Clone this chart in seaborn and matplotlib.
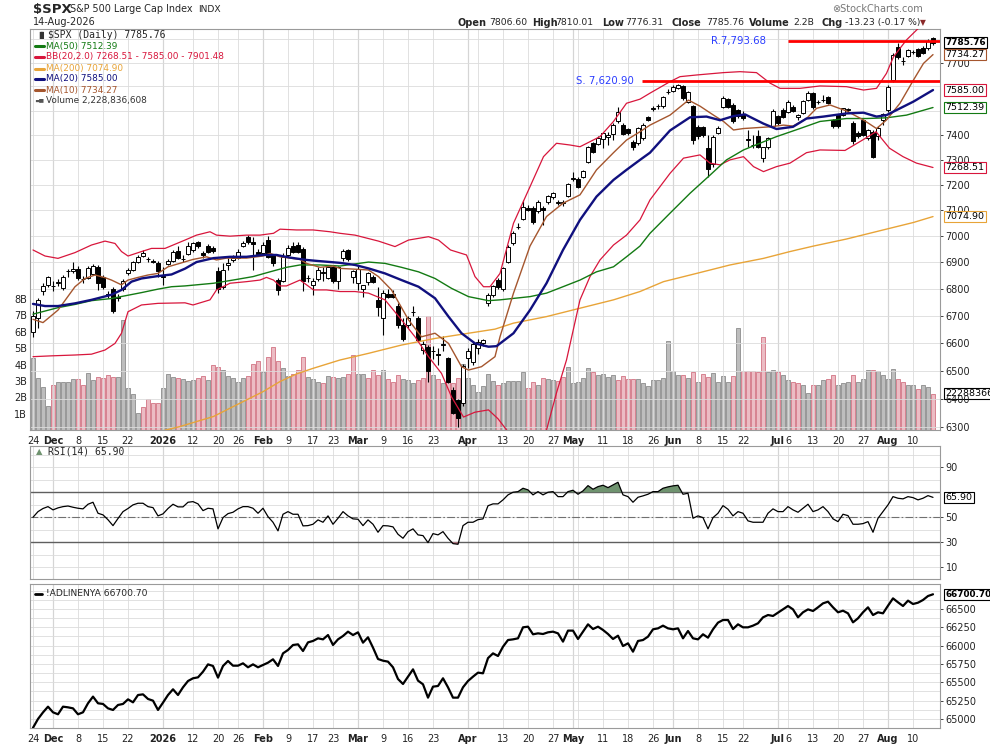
import numpy as np
import seaborn as sns
import matplotlib.pyplot as plt
import matplotlib.transforms as mtransforms
from matplotlib.lines import Line2D
from matplotlib.ticker import FixedLocator, NullLocator, FuncFormatter

# $SPX daily bars, 24 Nov 2025 .. 14 Aug 2026 (x = trading-day index 0..180)
opens = [6640, 6690, 6790, 6812, 6810, 6820, 6802, 6865, 6868, 6872,
         6836, 6840, 6855, 6882, 6842, 6778, 6800, 6765, 6800, 6858,
         6870, 6900, 6923, 6912, 6905, 6898, 6846, 6893, 6905, 6943,
         6912, 6930, 6945, 6975, 6935, 6960, 6955, 6868, 6805, 6890,
         6908, 6915, 6963, 6995, 6975, 6940, 6935, 6985, 6925, 6832,
         6830, 6925, 6960, 6965, 6950, 6838, 6812, 6835, 6860, 6840,
         6880, 6830, 6915, 6945, 6845, 6822, 6798, 6825, 6845, 6757,
         6690, 6780, 6780, 6735, 6665, 6665, 6712, 6690, 6575, 6585,
         6570, 6560, 6592, 6545, 6430, 6395, 6385, 6545, 6530, 6580,
         6600, 6745, 6777, 6832, 6797, 6902, 6971, 7033, 7065, 7110,
         7110, 7095, 7110, 7130, 7150, 7128, 7128, 7155, 7224, 7224,
         7230, 7292, 7368, 7363, 7383, 7390, 7405, 7455, 7440, 7423,
         7373, 7366, 7387, 7472, 7508, 7517, 7519, 7575, 7583, 7592,
         7602, 7537, 7519, 7434, 7434, 7346, 7283, 7407, 7516, 7548,
         7523, 7502, 7486, 7382, 7357, 7395, 7305, 7350, 7437, 7477,
         7502, 7495, 7516, 7472, 7491, 7544, 7572, 7535, 7542, 7555,
         7459, 7481, 7481, 7503, 7450, 7408, 7461, 7387, 7412, 7394,
         7459, 7502, 7627, 7768, 7706, 7729, 7745, 7757, 7761, 7761,
         7806.60]
highs = [6716, 6765, 6820, 6848, 6830, 6835, 6852, 6875, 6902, 6885,
         6848, 6885, 6892, 6888, 6850, 6790, 6805, 6780, 6835, 6878,
         6905, 6925, 6945, 6920, 6912, 6905, 6882, 6910, 6945, 6962,
         6925, 6975, 6978, 6982, 6942, 6970, 6962, 6880, 6895, 6915,
         6925, 6950, 6982, 7003, 6995, 6950, 6975, 6998, 6930, 6840,
         6935, 6965, 6975, 6978, 6958, 6850, 6840, 6880, 6880, 6890,
         6890, 6885, 6950, 6950, 6870, 6885, 6815, 6862, 6850, 6807,
         6795, 6800, 6795, 6745, 6690, 6700, 6735, 6700, 6605, 6592,
         6590, 6580, 6625, 6550, 6440, 6400, 6525, 6580, 6605, 6615,
         6615, 6785, 6815, 6840, 6880, 6965, 7020, 7048, 7140, 7122,
         7118, 7138, 7118, 7160, 7172, 7140, 7140, 7206, 7250, 7230,
         7260, 7355, 7372, 7395, 7412, 7410, 7450, 7515, 7450, 7430,
         7380, 7432, 7447, 7478, 7520, 7525, 7560, 7590, 7605, 7612,
         7608, 7582, 7522, 7440, 7438, 7398, 7400, 7435, 7560, 7552,
         7530, 7506, 7500, 7420, 7400, 7420, 7352, 7392, 7505, 7482,
         7512, 7542, 7522, 7485, 7545, 7582, 7578, 7545, 7565, 7562,
         7465, 7486, 7512, 7510, 7455, 7415, 7466, 7425, 7418, 7435,
         7490, 7605, 7740, 7782, 7725, 7758, 7752, 7762, 7770, 7800,
         7810.01]
lows = [6622, 6655, 6775, 6805, 6792, 6810, 6795, 6845, 6860, 6832,
        6822, 6835, 6850, 6795, 6800, 6765, 6710, 6755, 6790, 6850,
        6865, 6895, 6918, 6900, 6895, 6845, 6813, 6888, 6900, 6910,
        6900, 6925, 6940, 6955, 6915, 6935, 6935, 6785, 6800, 6870,
        6900, 6912, 6958, 6970, 6870, 6925, 6925, 6915, 6885, 6775,
        6825, 6920, 6935, 6935, 6790, 6825, 6775, 6830, 6830, 6835,
        6820, 6800, 6905, 6905, 6820, 6795, 6770, 6815, 6820, 6698,
        6628, 6765, 6765, 6655, 6605, 6655, 6700, 6605, 6560, 6460,
        6540, 6520, 6570, 6455, 6345, 6300, 6375, 6510, 6520, 6560,
        6590, 6735, 6770, 6800, 6790, 6898, 6965, 7025, 7060, 7095,
        7045, 7090, 7043, 7125, 7145, 7120, 7118, 7150, 7215, 7185,
        7225, 7288, 7325, 7358, 7345, 7360, 7380, 7450, 7400, 7400,
        7340, 7360, 7380, 7455, 7500, 7505, 7512, 7570, 7578, 7588,
        7545, 7530, 7365, 7385, 7392, 7232, 7270, 7402, 7510, 7510,
        7450, 7470, 7460, 7352, 7348, 7345, 7290, 7342, 7430, 7440,
        7470, 7488, 7495, 7462, 7485, 7538, 7508, 7528, 7535, 7525,
        7430, 7430, 7476, 7495, 7365, 7388, 7395, 7380, 7305, 7380,
        7440, 7495, 7620, 7715, 7690, 7722, 7738, 7725, 7735, 7755,
        7776.31]
closes = [6700, 6757, 6810, 6843, 6808, 6824, 6845, 6868, 6872, 6838,
          6835, 6878, 6884, 6820, 6805, 6775, 6718, 6768, 6830, 6870,
          6900, 6920, 6935, 6910, 6902, 6866, 6845, 6905, 6940, 6915,
          6913, 6962, 6972, 6960, 6925, 6940, 6942, 6800, 6870, 6895,
          6916, 6938, 6972, 6975, 6968, 6930, 6965, 6920, 6895, 6795,
          6920, 6955, 6940, 6940, 6830, 6840, 6830, 6870, 6862, 6880,
          6830, 6880, 6942, 6910, 6865, 6875, 6812, 6858, 6825, 6730,
          6785, 6770, 6768, 6665, 6615, 6690, 6713, 6612, 6597, 6498,
          6570, 6555, 6597, 6461, 6350, 6332, 6517, 6570, 6595, 6603,
          6610, 6777, 6810, 6807, 6876, 6959, 7013, 7035, 7114, 7102,
          7052, 7132, 7102, 7157, 7168, 7130, 7132, 7202, 7226, 7192,
          7255, 7350, 7332, 7389, 7407, 7400, 7442, 7495, 7405, 7409,
          7350, 7427, 7442, 7461, 7512, 7519, 7557, 7578, 7597, 7606,
          7551, 7578, 7379, 7395, 7400, 7262, 7390, 7427, 7551, 7516,
          7455, 7478, 7468, 7380, 7359, 7350, 7350, 7387, 7500, 7450,
          7475, 7537, 7500, 7481, 7540, 7574, 7514, 7537, 7544, 7530,
          7437, 7437, 7509, 7505, 7375, 7394, 7400, 7420, 7309, 7427,
          7486, 7599, 7733, 7723, 7708, 7754, 7747, 7729, 7740, 7794,
          7785.76]

# volume in billions and the bar colour class (u = grey up day, d = pink down day)
volume_b = [4.41, 3.20, 2.65, 1.47, 2.77, 2.95, 2.95, 2.95, 3.13, 3.13,
            2.77, 3.50, 3.07, 3.26, 3.20, 3.36, 3.26, 3.26, 6.71, 2.59,
            2.22, 1.04, 1.43, 1.91, 1.67, 1.67, 2.59, 3.44, 3.26, 3.20,
            3.13, 3.01, 3.07, 3.20, 3.32, 3.07, 3.99, 3.86, 3.64, 3.32,
            3.20, 2.95, 3.20, 3.32, 4.05, 4.23, 3.54, 4.48, 5.07, 4.23,
            3.80, 3.32, 3.44, 3.68, 4.48, 3.26, 3.13, 2.95, 2.89, 3.32,
            3.26, 3.20, 3.26, 3.44, 4.56, 3.44, 3.44, 3.20, 3.64, 3.38,
            3.68, 3.13, 2.95, 3.38, 3.13, 3.03, 2.89, 3.03, 3.20, 6.96,
            3.38, 3.13, 2.89, 3.34, 2.89, 3.17, 4.05, 3.20, 2.73, 2.33,
            2.70, 3.44, 3.00, 2.77, 2.89, 2.99, 2.99, 2.97, 3.54, 2.57,
            2.93, 2.77, 3.18, 3.09, 3.03, 2.97, 3.24, 3.85, 2.89, 2.93,
            3.18, 3.79, 3.54, 3.34, 3.44, 3.24, 3.34, 3.03, 3.30, 3.13,
            3.09, 3.09, 2.87, 2.69, 3.03, 3.03, 3.18, 5.41, 3.58, 3.34,
            3.38, 3.18, 3.54, 2.93, 3.44, 3.24, 3.48, 2.93, 3.30, 2.93,
            3.30, 6.22, 3.60, 3.60, 3.60, 3.54, 5.68, 3.54, 3.66, 3.54,
            3.34, 3.03, 2.93, 2.87, 2.77, 2.28, 2.73, 2.77, 3.07, 3.13,
            3.34, 2.73, 2.87, 2.93, 3.34, 2.93, 3.09, 3.64, 3.64, 3.60,
            3.34, 3.13, 3.74, 3.13, 2.93, 2.73, 2.73, 2.52, 2.73, 2.63,
            2.228836608]
day_dir = ("uuuuduuuud" "duudddduuu" "uudddduuud" "uuuddudduu" "uuuddduddd"
           "uuddduuudu" "duudduuddd" "uddduuuddd" "ududdduuuu" "uuuduuuuud"
           "duduudduuu" "uuduuuuddd" "duuuuuuuuu" "dududduuuu" "duddddduud"
           "uudduuduud" "duuuduuudu" "uuudduuduud")

# overlays (x = trading-day index where each point was read)
ma10_x = [0, 2, 5, 8.4, 10.4, 12.4, 14.4, 15.7, 17.7, 19, 21, 23, 25, 27, 29.7, 32, 34.7, 36.7,
          38.7, 42.7, 46, 47.4, 49.4, 51.4, 53.4, 54.7, 57.4, 60, 61.4, 64.4, 67.1, 69.1, 71.7,
          75.1, 77.7, 80.4, 83.1, 85.7, 87.1, 89.7, 92.4, 93.4, 96.1, 99.4, 102.7, 106, 109.4,
          112.7, 116.1, 118.7, 121.4, 123.4, 127.4, 131.1, 133.4, 136.1, 138.1, 140.1, 142.1,
          147.4, 150.1, 152, 154.7, 156.7, 159.4, 162.7, 166.1, 168.7, 170.7, 173.4, 176.1, 178.1, 180]
ma10 = [6686, 6674, 6720, 6807, 6838, 6851, 6841, 6832, 6814, 6832, 6842, 6851, 6857, 6882, 6897,
        6910, 6920, 6908, 6915, 6915, 6923, 6933, 6920, 6915, 6910, 6895, 6880, 6885, 6876, 6873,
        6870, 6845, 6795, 6684, 6622, 6635, 6598, 6514, 6502, 6514, 6550, 6622, 6783, 6961, 7075,
        7127, 7160, 7259, 7328, 7379, 7413, 7440, 7481, 7543, 7518, 7481, 7455, 7420, 7426, 7433,
        7440, 7436, 7467, 7509, 7523, 7498, 7461, 7426, 7461, 7530, 7627, 7697, 7734.27]
ma20_x = [0, 2.4, 5, 8.4, 11.7, 15.7, 17.7, 19.7, 21.7, 25, 27.7, 30.4, 32.7, 36.1, 39.4, 42.7, 46,
          48.7, 51.4, 54.7, 57, 61.4, 64.4, 67.1, 70.4, 73.7, 77.1, 80.4, 83.1, 85.7, 88.4, 91.1,
          92.7, 96.1, 99.4, 102.7, 106, 109.4, 112.7, 116.1, 118.7, 121.4, 123.4, 127.4, 131.4,
          134.7, 137.4, 140.1, 142.4, 146.1, 148.7, 152, 154.7, 158.1, 162.7, 166.1, 168.7, 170.7,
          173.4, 176.1, 180]
ma20 = [6743, 6735, 6735, 6745, 6758, 6777, 6795, 6826, 6838, 6847, 6853, 6875, 6900, 6915, 6920,
        6920, 6927, 6927, 6917, 6908, 6904, 6897, 6889, 6876, 6857, 6832, 6807, 6764, 6696, 6635,
        6598, 6586, 6588, 6635, 6720, 6820, 6946, 7062, 7153, 7219, 7259, 7299, 7328, 7418, 7472,
        7475, 7460, 7477, 7484, 7446, 7424, 7433, 7467, 7475, 7488, 7491, 7475, 7481, 7509, 7537,
        7585.00]
ma50_x = [0, 5, 8.4, 11.7, 15.7, 18.4, 21.7, 25, 27.7, 30.4, 36.1, 40, 44, 47.4, 50.7, 53.4, 57.4,
          61.4, 67.1, 70.4, 73.7, 77.1, 80.4, 83.7, 87.1, 91.1, 93.4, 99.4, 102.7, 106, 109.4, 112.7,
          116.1, 118.7, 121.4, 123.4, 127.4, 131.4, 135.4, 138.7, 142.1, 146.1, 148.7, 153.4, 157.4,
          162.7, 166.7, 170.7, 174.7, 180]
ma50 = [6705, 6729, 6741, 6755, 6763, 6773, 6785, 6798, 6807, 6810, 6820, 6832, 6845, 6863, 6880,
        6889, 6889, 6885, 6900, 6895, 6880, 6863, 6838, 6801, 6770, 6755, 6758, 6770, 6783, 6807,
        6832, 6863, 6882, 6920, 6961, 7010, 7088, 7166, 7238, 7299, 7339, 7372, 7393, 7426, 7455,
        7467, 7467, 7470, 7481, 7512.39]
ma200_x = [24, 29.4, 36.1, 42.7, 46, 49.4, 52.7, 56, 61.4, 67.1, 73.7, 80.4, 87.1, 92.4, 96.1,
           102.7, 109.4, 116.1, 121.4, 126.1, 132.7, 139.4, 146.1, 151.4, 156.1, 162.7, 169.4,
           176.1, 180]
ma200 = [6280, 6303, 6338, 6396, 6425, 6461, 6488, 6508, 6538, 6562, 6592, 6616, 6635, 6650, 6672,
         6696, 6727, 6758, 6789, 6826, 6857, 6889, 6914, 6940, 6961, 6988, 7020, 7052, 7074.90]
bbu_x = [0, 2.4, 5, 8.4, 11.7, 14.4, 16.4, 17.7, 19, 21.7, 23.7, 26.4, 30.4, 32.7, 35.4, 36.7, 39.4,
         42.7, 45.4, 48.1, 49.4, 52.7, 56, 59.4, 61.4, 64.4, 69.1, 72.4, 75.1, 79.1, 81.1, 83.5,
         86.7, 88.4, 90.1, 91.4, 93.4, 96.1, 99.4, 102.1, 104.7, 107.4, 109.4, 113.4, 116.1, 118.7,
         121.4, 123.4, 127.4, 129.4, 132.7, 138.1, 141.4, 144.7, 147.4, 149.4, 153.4, 157.4, 162.7,
         166.1, 168.7, 170.7, 172.1, 174.7, 177.4, 180]
bbu = [6946, 6923, 6914, 6936, 6965, 6980, 6971, 6940, 6923, 6940, 6952, 6952, 6984, 7003, 7016,
       7003, 6999, 7003, 7003, 7010, 7026, 7023, 7023, 7016, 7010, 7003, 6980, 6959, 6984, 6997,
       6984, 6946, 6927, 6845, 6807, 6807, 6857, 7049, 7192, 7312, 7366, 7359, 7352, 7393, 7455,
       7530, 7547, 7572, 7620, 7641, 7648, 7658, 7662, 7658, 7614, 7592, 7592, 7602, 7599, 7585,
       7592, 7655, 7725, 7797, 7854, 7901.48]
bbl_x = [0, 3.7, 8.4, 11.7, 14.4, 16.4, 17.7, 19, 21.7, 25, 30.4, 32, 35.4, 36.7, 39.4, 42.7, 45.4,
         46.7, 48.1, 49.4, 50.7, 53.4, 56.1, 58.7, 61.4, 64.4, 67.1, 70.4, 73.7, 76.4, 79.1, 81.7,
         83.7, 86.1, 88.4, 91.1, 93, 95, 97, 99.4, 101, 102.7, 104.7, 106.7, 109.4, 111.4, 113.4,
         116.1, 118.7, 121.4, 123.4, 127.4, 130.1, 133.4, 135.4, 137.4, 139.4, 142.1, 144.1, 146.1,
         148.7, 151.4, 154.7, 157.4, 162.4, 165.9, 168.6, 171.3, 174, 176.7, 180]
bbl = [6550, 6553, 6556, 6559, 6574, 6598, 6635, 6714, 6739, 6745, 6747, 6739, 6758, 6795, 6820,
       6826, 6832, 6842, 6832, 6810, 6810, 6832, 6795, 6795, 6789, 6789, 6783, 6758, 6684, 6622,
       6550, 6490, 6407, 6336, 6353, 6361, 6330, 6285, 6245, 6225, 6245, 6291, 6421, 6538, 6758,
       6845, 6908, 6965, 7003, 7062, 7140, 7245, 7306, 7319, 7286, 7279, 7299, 7312, 7272, 7252,
       7272, 7286, 7328, 7339, 7337, 7379, 7413, 7346, 7312, 7286, 7268.51]

support = 7620.90
resistance = 7793.68
support_from = 121.8
resistance_from = 151

rsi = [50, 54.5, 57, 58.5, 55.9, 57.5, 58.5, 59, 58, 57.2,
       56.7, 60.4, 62, 53.2, 51.9, 48, 43.3, 49, 54.5, 57,
       59.9, 61.2, 61.2, 58.5, 57.7, 51.1, 52.7, 57, 60.4, 58.3,
       58.3, 62, 62.5, 60.7, 55.3, 57.2, 56.7, 40.7, 49.7, 52.9,
       54, 56.7, 58.5, 58.5, 57.2, 53.2, 57.2, 50.5, 46, 39.1,
       52.4, 54.5, 52.4, 52.4, 43.1, 43.3, 44.4, 47.9, 46, 51.1,
       44.4, 49.2, 54.5, 51.1, 48.7, 48.4, 43.3, 47.9, 44.4, 38,
       43.3, 43.1, 42.3, 36.4, 33.2, 38.5, 40.7, 35.9, 35.3, 29.7,
       36.9, 35.9, 38.5, 33.2, 28.9, 28.4, 43.3, 46, 46, 48.1,
       48.7, 59.2, 60.7, 60.7, 63.9, 67.9, 70, 70.5, 73.2, 71.9,
       67.9, 70.5, 67.9, 70, 70.5, 66.5, 66.5, 70.5, 71.6, 68.4,
       71.1, 75.3, 72.4, 74.5, 75.6, 73.7, 75.9, 78, 67.9, 66.5,
       62, 66, 67.1, 68.4, 70.5, 70.5, 73.2, 74.3, 75.1, 75.6,
       68.4, 69.2, 49.2, 51.1, 49.7, 40.7, 49.7, 53.2, 59.3, 56.4,
       51.1, 54.5, 53.2, 47.1, 46, 46, 46, 53.2, 56.7, 54.5,
       54.5, 58.5, 55.9, 54, 57.2, 60.4, 54.5, 55.9, 58.5, 54.5,
       48.7, 46.5, 52.4, 51.3, 44.4, 44.4, 44.9, 46.5, 38, 49.2,
       54.5, 59.9, 66.5, 65.2, 64.7, 66.5, 65.7, 63.9, 65.2, 67.3,
       65.90]

adline = [64880, 65000, 65090, 65168, 65091, 65064, 65168, 65159, 65145, 65064,
          65091, 65214, 65305, 65214, 65205, 65145, 65123, 65191, 65205, 65268,
          65227, 65327, 65336, 65273, 65250, 65123, 65223, 65327, 65405, 65327,
          65432, 65518, 65555, 65568, 65645, 65745, 65723, 65564, 65723, 65791,
          65727, 65727, 65759, 65705, 65745, 65705, 65736, 65768, 65814, 65723,
          65895, 65941, 66009, 66018, 65927, 66045, 66064, 66100, 66086, 66145,
          66009, 66086, 66132, 66191, 66145, 66182, 66041, 66114, 65973, 65818,
          65795, 65782, 65705, 65545, 65477, 65577, 65677, 65523, 65473, 65291,
          65441, 65450, 65555, 65432, 65291, 65291, 65432, 65518, 65577, 65632,
          65623, 65830, 65895, 65859, 65986, 66077, 66086, 66100, 66250, 66259,
          66155, 66168, 66159, 66182, 66191, 66168, 66055, 66205, 66205, 66091,
          66191, 66291, 66227, 66259, 66214, 66159, 66091, 66136, 65995, 66032,
          65918, 66064, 66077, 66123, 66223, 66236, 66273, 66236, 66223, 66236,
          66100, 66200, 66100, 66086, 66155, 66109, 66223, 66314, 66350, 66350,
          66227, 66291, 66250, 66250, 66273, 66305, 66386, 66418, 66405, 66450,
          66495, 66541, 66495, 66386, 66455, 66495, 66473, 66523, 66577, 66600,
          66523, 66455, 66477, 66441, 66318, 66373, 66455, 66523, 66418, 66455,
          66441, 66545, 66645, 66591, 66541, 66614, 66568, 66586, 66623, 66677,
          66700.70]

# date axis: trading-day index of each label
tick_idx = [0, 4, 9, 14, 19, 26, 32, 37, 41, 46, 51, 56, 60, 65, 70, 75, 80, 87, 94, 99, 104,
            108, 114, 119, 124, 128, 133, 138, 142, 149, 151, 156, 161, 166, 171, 176]
tick_lbl = ['24', 'Dec', '8', '15', '22', '2026', '12', '20', '26', 'Feb', '9', '17', '23',
            'Mar', '9', '16', '23', 'Apr', '13', '20', '27', 'May', '11', '18', '26', 'Jun',
            '8', '15', '22', 'Jul', '6', '13', '20', '27', 'Aug', '10']
month_lbl = ['Dec', '2026', 'Feb', 'Mar', 'Apr', 'May', 'Jun', 'Jul', 'Aug']
extra_grid = [89, 109]

price_grid = list(range(6300, 7801, 100))
price_lbl = [6300, 6400, 6500, 6600, 6700, 6800, 6900, 7000, 7100, 7200, 7300, 7400, 7700]
rsi_lbl = [10, 30, 50, 90]
adl_lbl = list(range(65000, 66501, 250))

# ---------------------------------------------------------------
sns.set_theme(style="white")
plt.rcParams['font.family'] = ['DejaVu Sans']

W, H = 990, 744
fig = plt.figure(figsize=(W / 100, H / 100), dpi=100)
fig.patch.set_facecolor('white')


def rect(l, t, r, b):
    return [l / W, 1 - b / H, (r - l) / W, (b - t) / H]


def ftext(x, y, s, **kw):
    kw.setdefault('va', 'center')
    fig.text(x / W, 1 - y / H, s, **kw)


def dash(x0, x1, y, color, lw=2.2):
    fig.add_artist(Line2D([x0 / W, x1 / W], [1 - y / H, 1 - y / H], color=color, lw=lw,
                          transform=fig.transFigure))


GRID = '#dcdcdc'
MONTH_GRID = '#b4b4b4'
SPINE = '#9a9a9a'
XLIM = (-0.6, 181.4)
xs = np.arange(len(closes))


def style_panel(a):
    a.set_xlim(*XLIM)
    for s in a.spines.values():
        s.set_color(SPINE)
        s.set_linewidth(0.8)
    a.set_xticks(tick_idx)
    a.grid(True, axis='x', color=GRID, lw=0.6)
    for i, lb in zip(tick_idx, tick_lbl):
        if lb in month_lbl:
            a.axvline(i, color=MONTH_GRID, lw=0.8, zorder=0.5)
    for i in extra_grid:
        a.axvline(i, color=GRID, lw=0.6, zorder=0.5)
    a.set_axisbelow(True)
    a.tick_params(axis='both', labelsize=7, colors='#222222', length=2, width=0.6, pad=2)
    a.yaxis.tick_right()
    a.set_xlabel('')
    a.set_ylabel('')


def hgrid(a, values):
    for v in values:
        a.axhline(v, color=GRID, lw=0.6, zorder=0.5)


def date_labels(a):
    a.set_xticklabels(tick_lbl)
    for t, lb in zip(a.get_xticklabels(), tick_lbl):
        if lb in month_lbl:
            t.set_fontweight('bold')


def tag(a, yv, txt, ec, bold=False):
    tr = mtransforms.blended_transform_factory(a.transAxes, a.transData)
    a.text(1.006, yv, txt, transform=tr, ha='left', va='center', fontsize=6.4 if bold else 6.8,
           fontweight='bold' if bold else 'normal', color='black', clip_on=False, zorder=20,
           bbox=dict(boxstyle='square,pad=0.12', fc='white', ec=ec, lw=0.8))


# ---------------- price panel ----------------
ax = fig.add_axes(rect(30, 29, 940, 430))
axv = ax.twinx()
ax.set_zorder(axv.get_zorder() + 1)
ax.patch.set_visible(False)
axv.patch.set_visible(True)
axv.patch.set_facecolor('white')

vol = np.array(volume_b)
down = np.array([d == 'd' for d in day_dir])
axv.bar(xs[~down], vol[~down], width=0.95, color='#bdbdbd', edgecolor='#8c8c8c', lw=0.6)
axv.bar(xs[down], vol[down], width=0.95, color='#ecbcc4', edgecolor='#d27383', lw=0.6)
axv.set_ylim(0, 24.5)
axv.set_yticks(range(1, 9))
axv.set_yticklabels([f'{v}B' for v in range(1, 9)])
axv.yaxis.tick_left()
axv.tick_params(axis='y', labelsize=7, colors='#222222', length=0, pad=2)
for s in axv.spines.values():
    s.set_visible(False)

style_panel(ax)
ax.set_yscale('log')
ax.set_ylim(6291, 7844)
ax.yaxis.set_major_locator(FixedLocator(price_lbl))
ax.yaxis.set_major_formatter(FuncFormatter(lambda v, p: f'{v:.0f}'))
ax.yaxis.set_minor_locator(NullLocator())
hgrid(ax, price_grid)
date_labels(ax)

o = np.array(opens)
c = np.array(closes)
up = c >= o
ax.vlines(xs, lows, highs, color='black', lw=0.8, zorder=3)
ax.bar(xs[up], (c - o)[up], bottom=o[up], width=0.75, color='white', edgecolor='black',
       lw=0.7, zorder=4)
ax.bar(xs[~up], (o - c)[~up], bottom=c[~up], width=0.75, color='black', edgecolor='black',
       lw=0.7, zorder=4)

line_specs = [
    (ma200_x, ma200, '#e8a438', 1.0),
    (bbu_x, bbu, '#d8163c', 0.9),
    (bbl_x, bbl, '#d8163c', 0.9),
    (ma50_x, ma50, '#137a13', 1.0),
    (ma10_x, ma10, '#a5562e', 1.0),
    (ma20_x, ma20, '#10107e', 1.7),
]
for lx, ly, col, lw in line_specs:
    sns.lineplot(x=lx, y=ly, ax=ax, color=col, lw=lw, estimator=None, legend=False, zorder=5)

ax.hlines(resistance, resistance_from, XLIM[1], color='#ff0000', lw=2.0, zorder=6)
ax.hlines(support, support_from, XLIM[1], color='#ff0000', lw=2.0, zorder=6)
ax.text(146.6, resistance, 'R.7,793.68', color='#2a3cff', fontsize=7.3, ha='right', va='center')
ax.text(120.2, support, 'S. 7,620.90', color='#2a3cff', fontsize=7.3, ha='right', va='center')
ax.set_xlabel('')
ax.set_ylabel('')

tag(ax, closes[-1], f'{closes[-1]:.2f}', 'black', bold=True)
tag(ax, ma10[-1], f'{ma10[-1]:.2f}', '#a5562e')
tag(ax, ma20[-1], f'{ma20[-1]:.2f}', '#d8163c')
tag(ax, ma50[-1], f'{ma50[-1]:.2f}', '#137a13')
tag(ax, bbl[-1], f'{bbl[-1]:.2f}', '#d8163c')
tag(ax, ma200[-1], f'{ma200[-1]:.2f}', '#e8a438')
tag(axv, vol[-1], f'{vol[-1] * 1e9:.0f}', 'black')

# ---------------- RSI panel ----------------
ax_r = fig.add_axes(rect(30, 446, 940, 579))
style_panel(ax_r)
ax_r.set_xticklabels([])
rsi_a = np.array(rsi)
ax_r.set_ylim(0.6, 107)
ax_r.set_yticks(rsi_lbl)
hgrid(ax_r, range(10, 101, 10))
ax_r.fill_between(xs, rsi_a, 70, where=rsi_a > 70, interpolate=True, color='#6f936f', lw=0, zorder=2)
ax_r.fill_between(xs, rsi_a, 30, where=rsi_a < 30, interpolate=True, color='#c47a86', lw=0, zorder=2)
ax_r.axhline(70, color='#5f5f5f', lw=1.0, zorder=1)
ax_r.axhline(30, color='#5f5f5f', lw=1.0, zorder=1)
ax_r.axhline(50, color='#707070', lw=0.8, ls=(0, (7, 2, 1.5, 2)), zorder=1)
sns.lineplot(x=xs, y=rsi_a, ax=ax_r, color='black', lw=0.9, legend=False, zorder=3)
ax_r.set_xlabel('')
ax_r.set_ylabel('')
tag(ax_r, rsi[-1], f'{rsi[-1]:.2f}', 'black')

# ---------------- A/D line panel ----------------
ax_a = fig.add_axes(rect(30, 584, 940, 728))
style_panel(ax_a)
date_labels(ax_a)
ax_a.set_ylim(64877, 66841)
ax_a.set_yticks(adl_lbl)
ax_a.yaxis.set_major_formatter(FuncFormatter(lambda v, p: f'{v:.0f}'))
hgrid(ax_a, np.arange(65000, 66801, 125))
sns.lineplot(x=xs, y=adline, ax=ax_a, color='black', lw=1.6, legend=False, zorder=3)
ax_a.set_xlabel('')
ax_a.set_ylabel('')
tag(ax_a, adline[-1], f'{adline[-1]:.2f}', 'black', bold=True)

# ---------------- header and legends ----------------
ftext(33, 10, '$SPX', fontsize=9.5, fontweight='bold', ha='left')
ftext(70, 9, 'S&P 500 Large Cap Index', fontsize=6.9, ha='left')
ftext(198, 9, 'INDX', fontsize=6.6, ha='left')
ftext(33, 22, '14-Aug-2026', fontsize=7, ha='left')
ftext(923, 9, '\u2297StockCharts.com', fontsize=7, color='#777777', ha='right')

info = [(457, 'Open', True), (489, '7806.60', False), (532, 'High', True), (555, '7810.01', False),
        (602, 'Low', True), (625, '7776.31', False), (672, 'Close', True), (706, '7785.76', False),
        (749, 'Volume', True), (793, '2.2B', False), (821, 'Chg', True),
        (845, '-13.23 (-0.17 %)', False)]
for x0, s, b in info:
    ftext(x0, 22.5, s, fontsize=7 if b else 6.7, fontweight='bold' if b else 'normal', ha='left')
ftext(920, 22.5, '\u25bc', fontsize=5.5, color='#8b2a2a', ha='left')

ftext(36, 35, '\u2590\u258c', fontsize=5, color='#333333', ha='left')
ftext(48, 35, '$SPX (Daily) 7785.76', fontsize=7, family='DejaVu Sans Mono', ha='left')
legend_rows = [
    (46, '#137a13', 'MA(50) 7512.39'),
    (57, '#d8163c', 'BB(20,2.0) 7268.51 - 7585.00 - 7901.48'),
    (68.5, '#e8a438', 'MA(200) 7074.90'),
    (79, '#10107e', 'MA(20) 7585.00'),
    (90, '#a5562e', 'MA(10) 7734.27'),
]
for y0, col, s in legend_rows:
    dash(35, 44, y0, col)
    ftext(46, y0, s, fontsize=6.4, color=col, ha='left')
ftext(35, 100, '\u2583\u2585', fontsize=4, color='#555555', ha='left')
ftext(46, 100, 'Volume 2,228,836,608', fontsize=6.4, color='#333333', ha='left')

ftext(36, 452, '\u25b2', fontsize=6, color='#6f936f', ha='left')
ftext(48, 452, 'RSI(14) 65.90', fontsize=7, family='DejaVu Sans Mono', ha='left')
dash(35, 42, 594, 'black', lw=2.0)
ftext(46, 594, '!ADLINENYA 66700.70', fontsize=6.6, ha='left')

fig.savefig('out.png', dpi=100)
